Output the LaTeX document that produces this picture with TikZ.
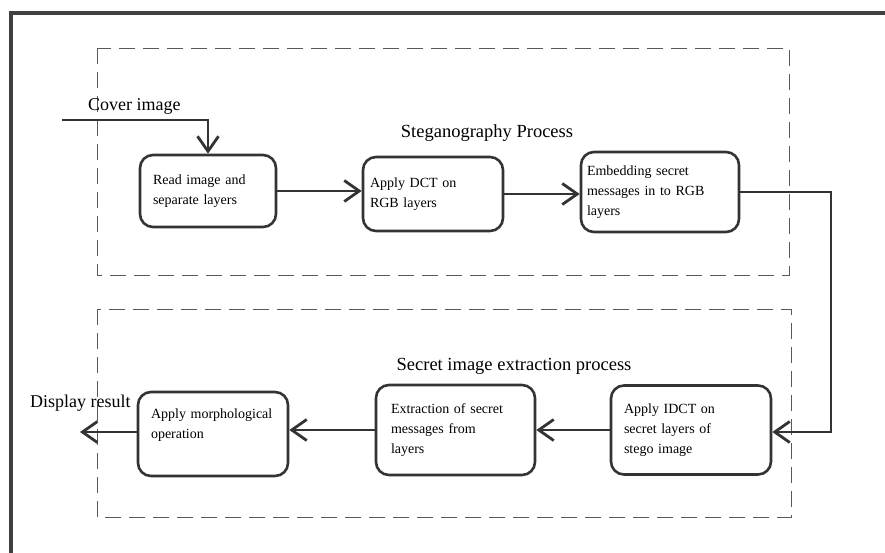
\documentclass[tikz,border=0pt]{standalone}
\usepackage{fontspec}
\setmainfont{Liberation Serif}
\usetikzlibrary{arrows.meta}

\tikzset{
  stepbox/.style={draw=black!80, line width=2.6pt, rounded corners=13pt, align=left, font=\fontsize{14}{20}\selectfont, inner ysep=4pt},
  flow/.style={draw=black!80, line width=2.8pt, -{Straight Barb[length=15pt,width=21pt]}},
  group/.style={draw=black!65, line width=0.9pt, dash pattern=on 16pt off 8pt},
  heading/.style={font=\fontsize{18.5}{22}\selectfont, inner sep=0pt},
  endlabel/.style={font=\fontsize{18}{22}\selectfont, inner sep=0pt}
}

\begin{document}
\begin{tikzpicture}[x=1pt,y=-1pt]
\useasboundingbox (0,0) rectangle (885,552);
\draw[line width=3.2pt,black!75] (11,560) -- (11,13) -- (890,13);
\draw[group] (97,48) rectangle (789,275);
\draw[group] (97,309) rectangle (791,517);

\node[heading,anchor=base] (stegtitle) at (487,137) {Steganography Process};
\node[heading,anchor=base] (extrtitle) at (514,370) {Secret image extraction process};
\node[endlabel,anchor=base west] (cover) at (88,110) {Cover image};
\node[endlabel,anchor=base west] (display) at (30,407) {Display result};

\node[stepbox,text width=110pt,inner xsep=13pt,minimum height=72pt] (read) at (208,191) {Read image and\\separate layers};
\node[stepbox,text width=126pt,inner xsep=7pt,minimum height=74pt] (dct) at (433,194) {Apply DCT on\\RGB layers};
\node[stepbox,text width=146pt,inner xsep=6pt,minimum height=80pt] (embed) at (660,192) {Embedding secret\\messages in to RGB\\layers};
\node[stepbox,text width=134pt,inner xsep=13pt,minimum height=89pt] (idct) at (691,430) {Apply IDCT on\\secret layers of\\stego image};
\node[stepbox,text width=129pt,inner xsep=15pt,minimum height=90pt] (extract) at (455.5,430) {Extraction of secret\\messages from\\layers};
\node[stepbox,text width=124pt,inner xsep=13pt,minimum height=84pt] (morph) at (213,434) {Apply morphological\\operation\\\mbox{}};

\coordinate (cin) at (62,120);
\coordinate (turn) at (831,432);
\coordinate (dout) at (80,432);

\draw[flow] (cin) -| (read.north);
\draw[flow] (read.east) -- (read.east -| dct.west);
\draw[flow] (dct.east) -- (dct.east -| embed.west);
\draw[flow] (embed.east) -| (turn) -- (turn -| idct.east);
\draw[flow] (idct.west) -- (idct.west -| extract.east);
\draw[flow] (extract.west) -- (extract.west -| morph.east);
\draw[flow] (morph.west |- dout) -- (dout);
\end{tikzpicture}
\end{document}
